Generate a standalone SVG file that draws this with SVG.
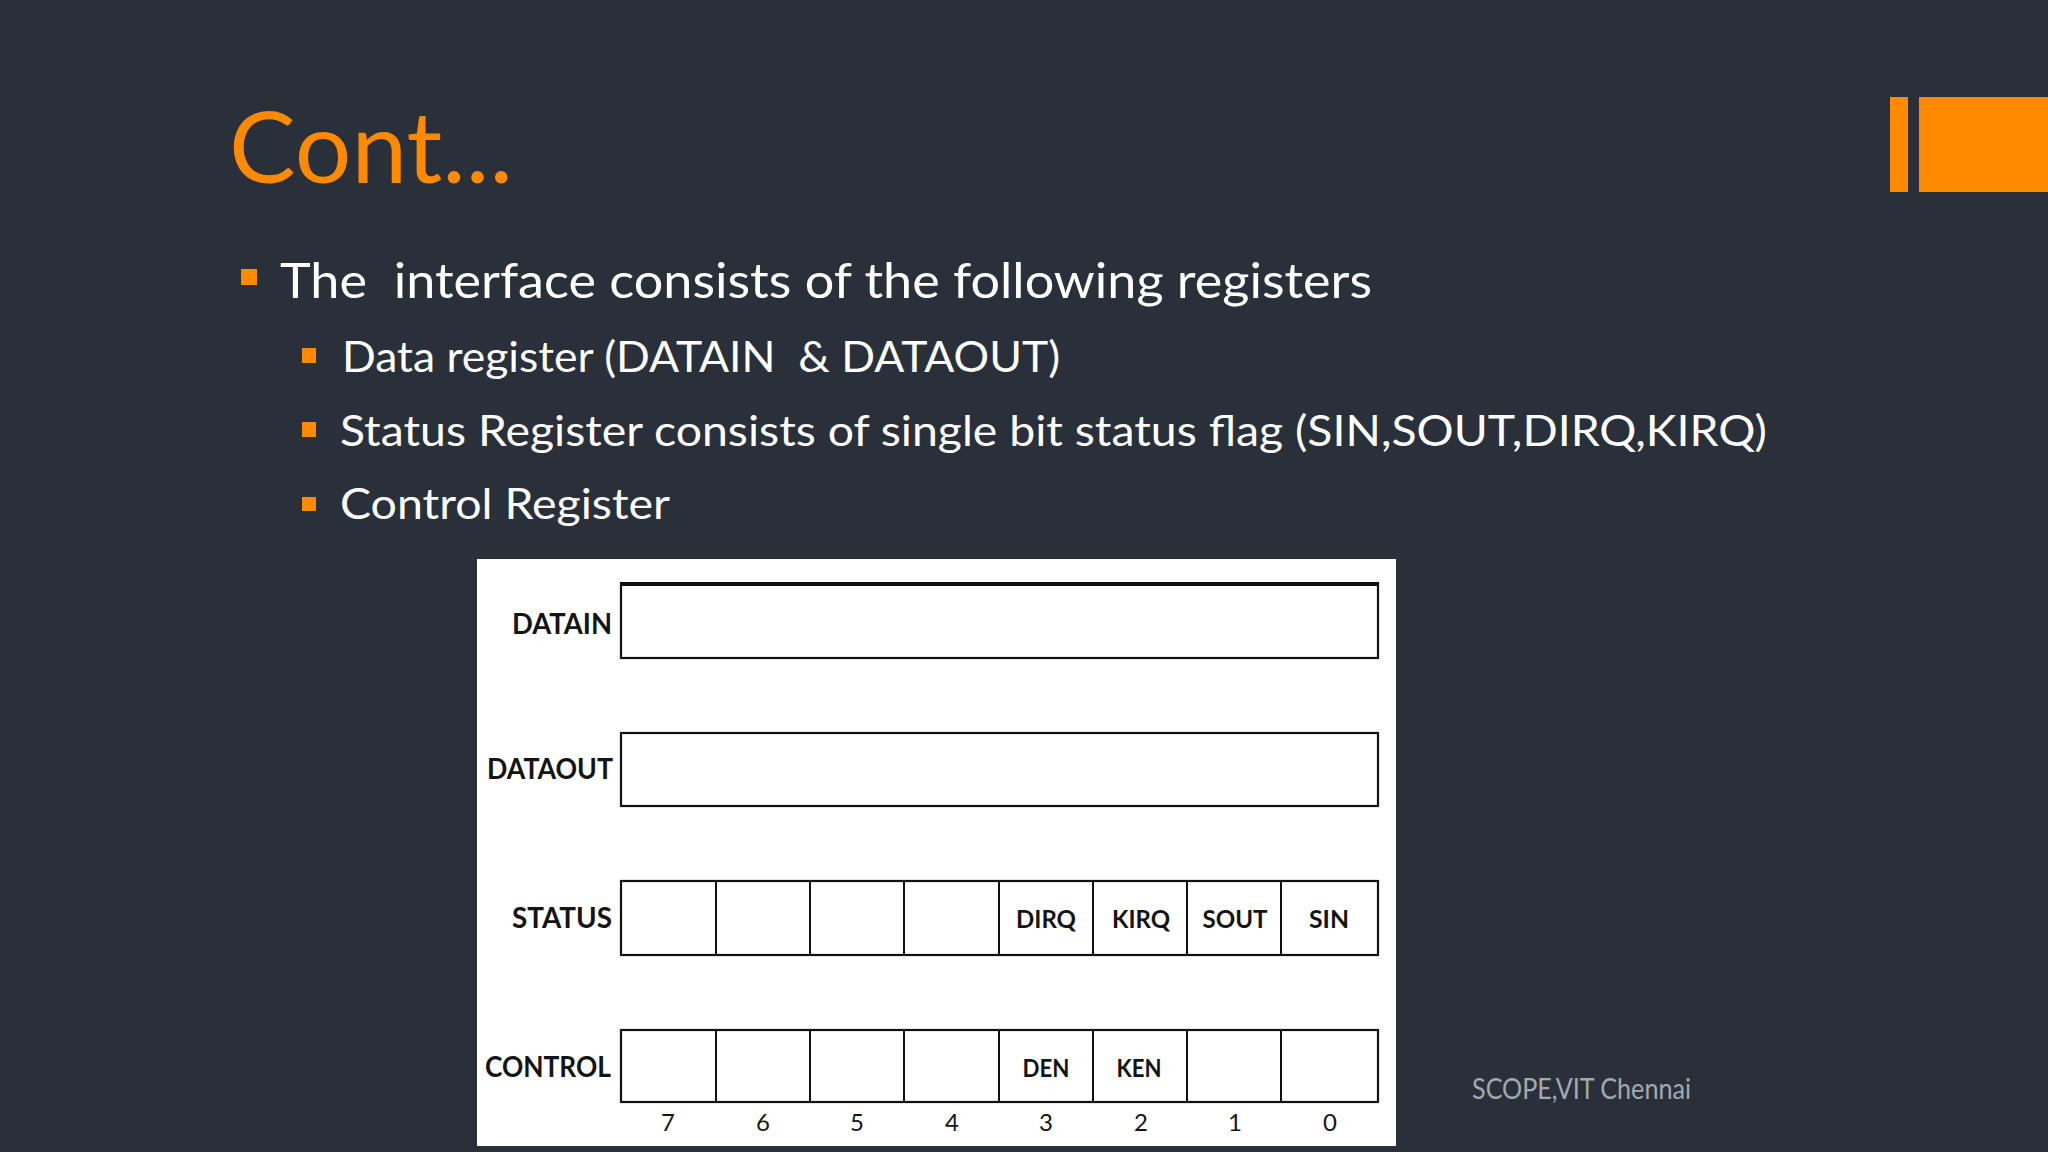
<svg xmlns="http://www.w3.org/2000/svg" width="2048" height="1152" viewBox="0 0 2048 1152">
<style>
.bg{fill:#29303a}
.or{fill:#ff8a00}
.title{font-family:Lato,"Open Sans",sans-serif;font-size:99px;fill:#ff8a00}
.b1{font-family:Lato,"Open Sans",sans-serif;font-size:49px;fill:#ffffff}
.b2{font-family:Lato,"Open Sans",sans-serif;font-size:42px;fill:#ffffff}
.foot{font-family:Lato,"Open Sans",sans-serif;font-size:28px;fill:#a3a9b0}
.reg{fill:#ffffff;stroke:#111111;stroke-width:2.2}
.div{stroke:#111111;stroke-width:2}
.rl{font-family:Lato,"Liberation Sans",sans-serif;font-weight:700;font-size:29px;fill:#141414;text-anchor:end}
.cl{font-family:Lato,"Liberation Sans",sans-serif;font-weight:700;font-size:25px;fill:#141414;text-anchor:middle}
.num{font-family:Lato,"Liberation Sans",sans-serif;font-size:24px;fill:#141414;text-anchor:middle}
</style>
<rect class="bg" x="0" y="0" width="2048" height="1152"/>
<g id="accent">
<rect class="or" x="1890" y="97" width="18" height="95"/>
<rect class="or" x="1919" y="97" width="129" height="95"/>
</g>
<g id="title">
<text class="title" x="229" y="183" textLength="284" lengthAdjust="spacingAndGlyphs">Cont...</text>
</g>
<g id="bullets">
<rect class="or" x="241" y="269" width="16" height="16"/>
<text class="b1" x="280" y="298" xml:space="preserve" textLength="1092" lengthAdjust="spacingAndGlyphs">The  interface consists of the following registers</text>
<rect class="or" x="302" y="348" width="14" height="15"/>
<text class="b2" x="342" y="372" xml:space="preserve" textLength="718" lengthAdjust="spacingAndGlyphs">Data register (DATAIN  &amp; DATAOUT)</text>
<rect class="or" x="302" y="422" width="14" height="15"/>
<text class="b2" x="340" y="446" textLength="1427" lengthAdjust="spacingAndGlyphs">Status Register consists of single bit status flag (SIN,SOUT,DIRQ,KIRQ)</text>
<rect class="or" x="302" y="497" width="14" height="14"/>
<text class="b2" x="340" y="519" textLength="330" lengthAdjust="spacingAndGlyphs">Control Register</text>
</g>
<g id="figure">
<rect x="477" y="559" width="919" height="587" fill="#ffffff"/>
</g>
<g id="datain">
<rect class="reg" x="621" y="584" width="757" height="74"/>
<line x1="620" y1="584" x2="1379" y2="584" stroke="#111111" stroke-width="4"/>
<text class="rl" x="612" y="634" textLength="100" lengthAdjust="spacingAndGlyphs">DATAIN</text>
</g>
<g id="dataout">
<rect class="reg" x="621" y="733" width="757" height="73"/>
<text class="rl" x="613" y="779" textLength="126" lengthAdjust="spacingAndGlyphs">DATAOUT</text>
</g>
<g id="status">
<rect class="reg" x="621" y="881" width="757" height="74"/>
<line class="div" x1="716" y1="881" x2="716" y2="955"/>
<line class="div" x1="810" y1="881" x2="810" y2="955"/>
<line class="div" x1="904" y1="881" x2="904" y2="955"/>
<line class="div" x1="999" y1="881" x2="999" y2="955"/>
<line class="div" x1="1093" y1="881" x2="1093" y2="955"/>
<line class="div" x1="1187" y1="881" x2="1187" y2="955"/>
<line class="div" x1="1281" y1="881" x2="1281" y2="955"/>
<text class="rl" x="612" y="928" textLength="100" lengthAdjust="spacingAndGlyphs">STATUS</text>
<text class="cl" x="1046" y="928" textLength="60" lengthAdjust="spacingAndGlyphs">DIRQ</text>
<text class="cl" x="1141" y="928" textLength="58" lengthAdjust="spacingAndGlyphs">KIRQ</text>
<text class="cl" x="1235" y="928" textLength="65" lengthAdjust="spacingAndGlyphs">SOUT</text>
<text class="cl" x="1329" y="928" textLength="40" lengthAdjust="spacingAndGlyphs">SIN</text>
</g>
<g id="control">
<rect class="reg" x="621" y="1030" width="757" height="72"/>
<line class="div" x1="716" y1="1030" x2="716" y2="1102"/>
<line class="div" x1="810" y1="1030" x2="810" y2="1102"/>
<line class="div" x1="904" y1="1030" x2="904" y2="1102"/>
<line class="div" x1="999" y1="1030" x2="999" y2="1102"/>
<line class="div" x1="1093" y1="1030" x2="1093" y2="1102"/>
<line class="div" x1="1187" y1="1030" x2="1187" y2="1102"/>
<line class="div" x1="1281" y1="1030" x2="1281" y2="1102"/>
<text class="rl" x="611" y="1077" textLength="126" lengthAdjust="spacingAndGlyphs">CONTROL</text>
<text class="cl" x="1046" y="1077" textLength="47" lengthAdjust="spacingAndGlyphs">DEN</text>
<text class="cl" x="1139" y="1077" textLength="45" lengthAdjust="spacingAndGlyphs">KEN</text>
</g>
<g id="bit-numbers">
<text class="num" x="668" y="1131">7</text>
<text class="num" x="763" y="1131">6</text>
<text class="num" x="857" y="1131">5</text>
<text class="num" x="952" y="1131">4</text>
<text class="num" x="1046" y="1131">3</text>
<text class="num" x="1141" y="1131">2</text>
<text class="num" x="1235" y="1131">1</text>
<text class="num" x="1330" y="1131">0</text>
</g>
<g id="footer">
<text class="foot" x="1472" y="1099" textLength="219" lengthAdjust="spacingAndGlyphs">SCOPE,VIT Chennai</text>
</g>
</svg>
